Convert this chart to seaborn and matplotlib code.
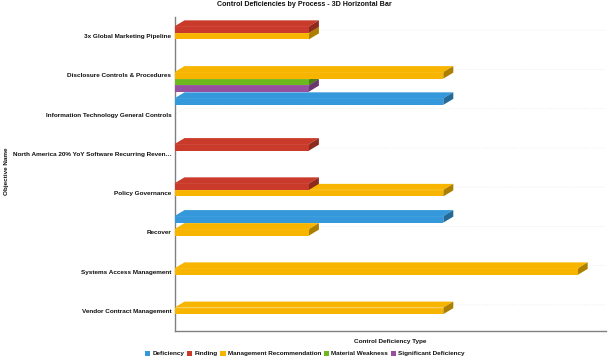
import matplotlib
matplotlib.use("Agg")
import matplotlib.pyplot as plt
import numpy as np
import pandas as pd
import seaborn as sns
from matplotlib.patches import Polygon, Patch
from matplotlib.transforms import IdentityTransform
from matplotlib.colors import to_rgb

objectives = ["3x Global Marketing Pipeline", "Disclosure Controls & Procedures",
              "Information Technology General Controls",
              "North America 20% YoY Software Recurring Reven…", "Policy Governance",
              "Recover", "Systems Access Management", "Vendor Contract Management"]
types = ["Deficiency", "Finding", "Management Recommendation", "Material Weakness", "Significant Deficiency"]
colors = ["#3498DB", "#C93A2A", "#F7B500", "#6CB81E", "#974F9F"]
row_objective = [0, 0, 1, 1, 1, 2, 3, 4, 4, 5, 5, 6, 7]
row_type =      [1, 2, 2, 3, 4, 0, 1, 1, 2, 0, 2, 2, 2]
row_count =     [1, 1, 2, 1, 1, 2, 1, 1, 2, 2, 1, 3, 2]

W, H = 611, 358
DX, DY = 10, 6
FS = 4.55
TXT = "#111111"
sns.set_theme(style="white")
plt.rcParams["font.family"] = ["Liberation Sans", "DejaVu Sans"]

df = pd.DataFrame({
    "Objective": pd.Categorical([objectives[i] for i in row_objective], categories=objectives),
    "Type": [types[i] for i in row_type],
    "Count": row_count,
})

fig = plt.figure(figsize=(W / 100, H / 100), dpi=100)
ax = fig.add_axes([174.5 / W, 1 - 330.5 / H, (606 - 174.5) / W, (330.5 - 16.5) / H])
sns.barplot(data=df, x="Count", y="Objective", hue="Type", hue_order=types, order=objectives,
            palette=colors, orient="h", width=0.83, gap=0, saturation=1, legend=False, ax=ax)
ax.set_xlim(0, (606 - 174.5) / 134.4)
ax.set_ylim(len(objectives) - 0.5, -0.5)

ax.set_xticks([])
ax.tick_params(axis="y", length=0, pad=2.2)
for t in ax.get_yticklabels():
    t.set_fontsize(FS)
    t.set_fontweight("bold")
    t.set_color(TXT)
ax.set_xlabel("")
ax.set_ylabel("")
for s in ["top", "right"]:
    ax.spines[s].set_visible(False)
for s in ["left", "bottom"]:
    ax.spines[s].set_color("#808080")
    ax.spines[s].set_linewidth(1.0)

fig.canvas.draw()
# faint floor guide lines
for yc in range(len(objectives)):
    px, py = ax.transData.transform((0, yc))
    rx = ax.transData.transform((ax.get_xlim()[1], yc))[0]
    ax.plot([px, px + DX, rx], [py, py + DY, py + DY], transform=IdentityTransform(), color="#ececec",
            lw=0.5, ls=(0, (2, 2)), zorder=0.5, clip_on=False)

# extruded faces built from the bars seaborn drew; upper series stay in front
for i, cont in enumerate(ax.containers):
    base = np.array(to_rgb(colors[i]))
    z = 10 - i
    for bar in cont:
        bb = bar.get_window_extent()
        if not bb.width:
            continue
        x0, x1, y0, y1 = bb.x0, bb.x1, bb.y0, bb.y1
        bar.set_zorder(z + 0.2)
        bar.set_linewidth(0)
        ax.add_patch(Polygon([(x0, y1), (x1, y1), (x1 + DX, y1 + DY), (x0 + DX, y1 + DY)],
                             transform=IdentityTransform(), fc=base, ec="none", zorder=z, clip_on=False))
        ax.add_patch(Polygon([(x1, y0), (x1, y1), (x1 + DX, y1 + DY), (x1 + DX, y0 + DY)],
                             transform=IdentityTransform(), fc=base * 0.7, ec="none", zorder=z + 0.1, clip_on=False))
        ax.plot([x0, x1], [y1, y1], transform=IdentityTransform(), color=base + (1 - base) * 0.1,
                lw=0.5, zorder=z + 0.3, clip_on=False)

fig.text(304.5 / W, 1 - 4.5 / H, "Control Deficiencies by Process - 3D Horizontal Bar", ha="center", va="center",
         fontsize=5.1, fontweight="bold", color=TXT)
fig.text(390 / W, 1 - 342 / H, "Control Deficiency Type", ha="center", va="center",
         fontsize=FS, fontweight="bold", color=TXT)
fig.text(7 / W, 1 - 171 / H, "Objective Name", ha="center", va="center", rotation=90,
         fontsize=FS, fontweight="bold", color=TXT)

handles = [Patch(fc=c, ec="none") for c in colors]
leg = fig.legend(handles, types, loc="center", bbox_to_anchor=(305 / W, 1 - 353.5 / H), ncol=5, frameon=False,
                 prop={"size": FS, "weight": "bold"}, handlelength=0.8, handleheight=0.9, handletextpad=0.35,
                 columnspacing=0.45, borderpad=0, labelcolor=TXT)

fig.savefig("out.png", dpi=100)
